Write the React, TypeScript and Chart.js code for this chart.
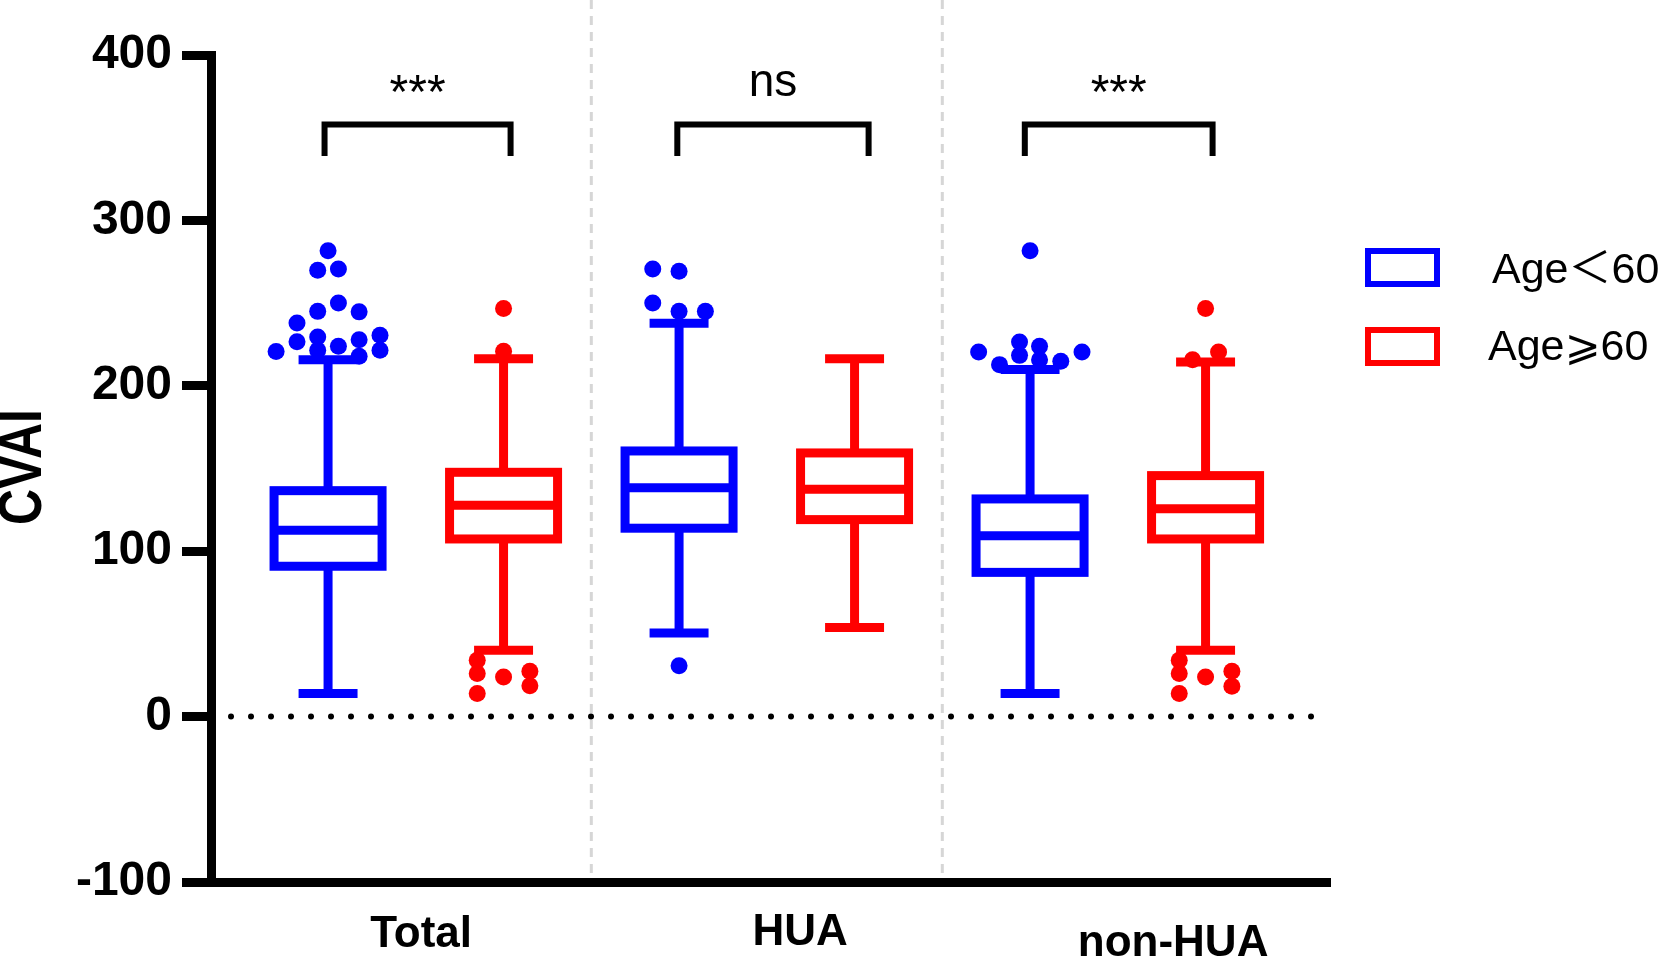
import { useEffect, useRef } from "react"
import { Chart, registerables } from "chart.js"

Chart.register(...registerables)

const groups = ["Total", "HUA", "non-HUA"]
const seriesNames = ["Age＜60", "Age⩾60"]
const seriesColors = ["#0000ff", "#ff0000"]

// [lower whisker, Q1, median, Q3, upper whisker] per group
const youngBoxes = [
  [13.9, 90.9, 112.6, 136.6, 215.8],
  [50.6, 113.9, 138.3, 160.6, 237.8],
  [13.9, 87.2, 109.4, 131.6, 209.8],
]
const oldBoxes = [
  [40.1, 107.4, 127.8, 147.7, 216.4],
  [53.8, 119.1, 137.4, 159.4, 216.4],
  [40.1, 107.4, 125.6, 145.7, 214.4],
]

// outliers: [offset from box centre in slot widths, value]
const youngOutliers = [
  [
    [0, 281.7], [-0.059, 269.8], [0.059, 270.6], [0.059, 250.1], [-0.059, 245.0],
    [0.177, 244.7], [-0.177, 238.0], [-0.177, 226.7], [-0.059, 229.5], [0.177, 227.9],
    [0.296, 230.5], [-0.296, 220.7], [0.059, 223.9], [0.296, 221.5], [-0.059, 221.5],
    [0.177, 217.8],
  ],
  [[-0.15, 270.6], [0, 269.2], [-0.15, 250.1], [0, 245.0], [0.15, 245.0], [0, 30.8]],
  [
    [0, 281.7], [-0.293, 220.5], [0.296, 220.5], [-0.06, 226.5], [-0.06, 218.4],
    [0.054, 223.9], [0.054, 215.8], [-0.174, 212.8], [0.175, 214.8],
  ],
]
const oldOutliers = [
  [[0, 246.7], [0, 220.9], [-0.15, 34.0], [-0.15, 26.0], [-0.15, 13.9], [0, 24.0], [0.15, 27.4], [0.15, 18.7]],
  [],
  [
    [0, 246.7], [-0.074, 215.8], [0.074, 220.5], [-0.15, 34.0], [-0.15, 26.0],
    [-0.15, 13.9], [0, 24.0], [0.15, 27.4], [0.15, 18.3],
  ],
]

const sigLabels = ["***", "ns", "***"]
const yTicks = [-100, 0, 100, 200, 300, 400]

// layout in x-axis units (one slot per box)
const X_MIN = -0.667
const X_MAX = 5.709
const LABEL_X = [0.53, 2.69, 4.815]
const LABEL_BASE = [947, 945, 956]
const BRACKETS = [[-0.02, 1.04], [1.99, 3.08], [3.97, 5.04]]
const BRACKET_TOP = 358
const BRACKET_LEG = 339
const SEPARATORS = [1.5, 3.5]
const BOX_HALF = 0.3077
const CAP_HALF = 0.168
const LINE_W = 9

const font = (size: number, bold = false) =>
  `${bold ? "bold " : ""}${size}px "Liberation Sans", Arial, "Noto Sans CJK SC", "DejaVu Sans", sans-serif`

const boxPlugin = {
  id: "boxes",
  beforeDatasetsDraw(chart: any) {
    const { ctx, scales } = chart
    const x = scales.x
    const y = scales.y
    const slot = x.getPixelForValue(1) - x.getPixelForValue(0)
    ctx.save()
    // dashed separators
    ctx.strokeStyle = "#d6d6d6"
    ctx.lineWidth = 3
    ctx.setLineDash([9, 7])
    SEPARATORS.forEach((s) => {
      const px = x.getPixelForValue(s)
      ctx.beginPath()
      ctx.moveTo(px, 0)
      ctx.lineTo(px, y.bottom - 4)
      ctx.stroke()
    })
    ctx.setLineDash([])

    // boxes and whiskers
    const all = [youngBoxes, oldBoxes]
    all.forEach((boxes, s) => {
      ctx.strokeStyle = seriesColors[s]
      ctx.lineWidth = LINE_W
      ctx.lineCap = "butt"
      boxes.forEach((b, g) => {
        const cx = x.getPixelForValue(g * 2 + s)
        const [lo, q1, med, q3, hi] = b.map((v) => y.getPixelForValue(v))
        const bw = BOX_HALF * slot
        const cw = CAP_HALF * slot
        ctx.strokeRect(cx - bw, q3, bw * 2, q1 - q3)
        ctx.beginPath()
        ctx.moveTo(cx - bw, med)
        ctx.lineTo(cx + bw, med)
        ctx.moveTo(cx, q3)
        ctx.lineTo(cx, hi)
        ctx.moveTo(cx, q1)
        ctx.lineTo(cx, lo)
        ctx.moveTo(cx - cw, hi)
        ctx.lineTo(cx + cw, hi)
        ctx.moveTo(cx - cw, lo)
        ctx.lineTo(cx + cw, lo)
        ctx.stroke()
      })
    })
    ctx.restore()
  },
  afterDraw(chart: any) {
    const { ctx, scales } = chart
    const x = scales.x
    const y = scales.y
    ctx.save()
    ctx.fillStyle = "#000"
    ctx.strokeStyle = "#000"

    // brackets + significance
    ctx.lineWidth = 6
    BRACKETS.forEach(([a, b], i) => {
      const x1 = x.getPixelForValue(a)
      const x2 = x.getPixelForValue(b)
      const top = y.getPixelForValue(BRACKET_TOP)
      const leg = y.getPixelForValue(BRACKET_LEG)
      ctx.beginPath()
      ctx.moveTo(x1, leg)
      ctx.lineTo(x1, top)
      ctx.lineTo(x2, top)
      ctx.lineTo(x2, leg)
      ctx.stroke()
      ctx.textAlign = "center"
      ctx.textBaseline = "alphabetic"
      const label = sigLabels[i]
      if (label === "ns") {
        ctx.font = font(46)
        ctx.fillText(label, (x1 + x2) / 2, 96)
      } else {
        ctx.font = font(48)
        ctx.fillText(label, (x1 + x2) / 2, 108)
      }
    })

    // category labels
    ctx.font = font(44, true)
    ctx.textAlign = "center"
    groups.forEach((g, i) => {
      ctx.fillText(g, x.getPixelForValue(LABEL_X[i]), LABEL_BASE[i])
    })

    // y title
    ctx.save()
    ctx.translate(24, 467)
    ctx.rotate(-Math.PI / 2)
    ctx.scale(0.82, 1)
    ctx.font = font(61, true)
    ctx.textAlign = "center"
    ctx.textBaseline = "middle"
    ctx.fillText("CVAI", 0, 0)
    ctx.restore()

    // legend
    ctx.lineWidth = 6
    ctx.textAlign = "left"
    ctx.textBaseline = "alphabetic"
    ctx.font = font(43)
    const legendTop = [251, 330]
    const legendText = [1492, 1488]
    const legendBase = [283, 360]
    const legendWidth = [170, 174]
    seriesNames.forEach((name, i) => {
      ctx.strokeStyle = seriesColors[i]
      ctx.strokeRect(1368, legendTop[i], 69, 33)
      ctx.fillStyle = "#000"
      ctx.fillText(name, legendText[i], legendBase[i], legendWidth[i] + 20)
    })
    ctx.restore()
  },
}

const outlierData = (sets: number[][][], s: number) =>
  sets.flatMap((pts, g) => pts.map(([dx, v]) => ({ x: g * 2 + s + dx, y: v })))

export default function App() {
  const canvasRef = useRef<HTMLCanvasElement>(null)
  const chartRef = useRef<Chart | null>(null)

  useEffect(() => {
    document.body.style.margin = "0"
    if (!canvasRef.current) return
    if (chartRef.current) chartRef.current.destroy()

    chartRef.current = new Chart(canvasRef.current, {
      type: "scatter",
      data: {
        datasets: [
          {
            type: "line",
            label: "zero",
            data: [{ x: -0.553, y: 0 }, { x: 5.62, y: 0 }],
            borderColor: "#000",
            borderWidth: 6,
            borderDash: [0, 20],
            borderCapStyle: "round",
            pointRadius: 0,
          },
          {
            label: seriesNames[0],
            data: outlierData(youngOutliers, 0),
            backgroundColor: seriesColors[0],
            borderWidth: 0,
            pointRadius: 8.5,
          },
          {
            label: seriesNames[1],
            data: outlierData(oldOutliers, 1),
            backgroundColor: seriesColors[1],
            borderWidth: 0,
            pointRadius: 8.5,
          },
        ],
      } as any,
      options: {
        animation: false,
        responsive: false,
        layout: { padding: { top: 55, right: 336, bottom: 0, left: 0 } },
        plugins: { legend: { display: false }, tooltip: { enabled: false } },
        scales: {
          x: {
            type: "linear",
            min: X_MIN,
            max: X_MAX,
            grid: { display: true, drawOnChartArea: false, drawTicks: false, lineWidth: 1 },
            border: { display: true, width: LINE_W, color: "#000" },
            ticks: { display: false },
            afterFit: (s: any) => {
              s.height = 76
            },
          },
          y: {
            min: -100,
            max: 400,
            afterBuildTicks: (s: any) => {
              s.ticks = yTicks.map((v) => ({ value: v }))
            },
            grid: {
              display: true,
              drawOnChartArea: false,
              drawTicks: true,
              tickLength: 29,
              tickWidth: LINE_W,
              tickColor: "#000",
              lineWidth: LINE_W,
              color: "#000",
            },
            border: { display: true, width: LINE_W, color: "#000" },
            ticks: {
              padding: 10,
              color: "#000",
              font: { family: '"Liberation Sans", Arial, sans-serif', size: 48, weight: "bold" },
            },
            afterFit: (s: any) => {
              s.width = 211
            },
          },
        },
      } as any,
      plugins: [boxPlugin],
    })

    return () => {
      if (chartRef.current) {
        chartRef.current.destroy()
        chartRef.current = null
      }
    }
  }, [])

  return (
    <div style={{ width: 1666, height: 958, background: "#fff" }}>
      <canvas ref={canvasRef} width={1666} height={958} />
    </div>
  )
}
